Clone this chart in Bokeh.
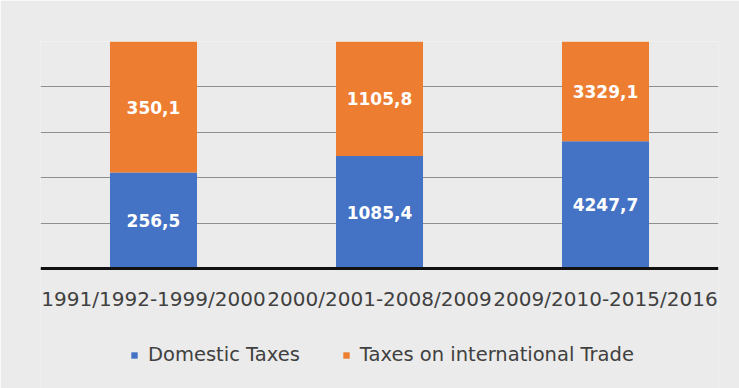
from bokeh.plotting import figure
from bokeh.models import FactorRange, FixedTicker, Legend, LegendItem, ColumnDataSource, Range1d, Span
from bokeh.core.properties import value
from bokeh.embed import file_html
from bokeh.resources import INLINE

categories = ["1991/1992-1999/2000", "2000/2001-2008/2009", "2009/2010-2015/2016"]
domestic = [256.5, 1085.4, 4247.7]
trade = [350.1, 1105.8, 3329.1]
series_names = ["Domestic Taxes", "Taxes on international Trade"]
colors = ["#4472C4", "#ED7D31"]

totals = [d + t for d, t in zip(domestic, trade)]
dom_frac = [d / s for d, s in zip(domestic, totals)]
trade_frac = [t / s for t, s in zip(trade, totals)]

def fmt(v):
    return f"{v:.1f}".replace(".", ",")

src = ColumnDataSource(dict(
    cat=categories,
    dom=dom_frac,
    trade=trade_frac,
    dom_mid=[f / 2 for f in dom_frac],
    trade_mid=[d + t / 2 for d, t in zip(dom_frac, trade_frac)],
    dom_lbl=[fmt(v) for v in domestic],
    trade_lbl=[fmt(v) for v in trade],
))

# plot area: 100% at top, baseline 227px lower, 120px of label/legend room below it
PX = 227.0
p = figure(x_range=FactorRange(*categories, range_padding=0), y_range=Range1d(-120 / PX, 1),
           width=739, height=388, output_backend="svg", toolbar_location=None,
           min_border_left=40, min_border_right=21, min_border_top=41, min_border_bottom=0)

p.background_fill_color = "#ebebeb"
p.border_fill_color = "#ebebeb"
p.outline_line_color = None
p.xaxis.visible = False
p.yaxis.visible = False

p.ygrid.ticker = FixedTicker(ticks=[0.2, 0.4, 0.6, 0.8, 1.0])
p.ygrid.grid_line_color = "#8f8f8f"
p.ygrid.grid_line_width = 1.2
p.xgrid.grid_line_color = None

r = p.vbar_stack(["dom", "trade"], x="cat", width=0.385, color=colors, source=src, line_color=None)

p.add_layout(Span(location=0, dimension="width", line_color="#111111", line_width=3))

p.text(x="cat", y="dom_mid", text="dom_lbl", source=src, text_align="center", text_baseline="middle",
       text_color="white", text_font=value("DejaVu Sans"), text_font_style="bold", text_font_size="17px")
p.text(x="cat", y="trade_mid", text="trade_lbl", source=src, text_align="center", text_baseline="middle",
       text_color="white", text_font=value("DejaVu Sans"), text_font_style="bold", text_font_size="17px")

# category labels under the baseline
p.text(x="cat", y=-30 / PX, text="cat", source=src, text_align="center", text_baseline="middle",
       text_color="#404040", text_font=value("DejaVu Sans"), text_font_size="20px")

legend = Legend(items=[LegendItem(label=series_names[0], renderers=[r[0]]),
                       LegendItem(label=series_names[1], renderers=[r[1]])],
                orientation="horizontal", location=(90, 22),
                background_fill_alpha=0, border_line_color=None,
                glyph_width=8, glyph_height=8, label_standoff=10, spacing=42,
                label_text_font="DejaVu Sans", label_text_font_size="19.5px",
                label_text_color="#404040", margin=0, padding=4)
p.add_layout(legend, "center")

open("out.html", "w").write(file_html(p, INLINE))
